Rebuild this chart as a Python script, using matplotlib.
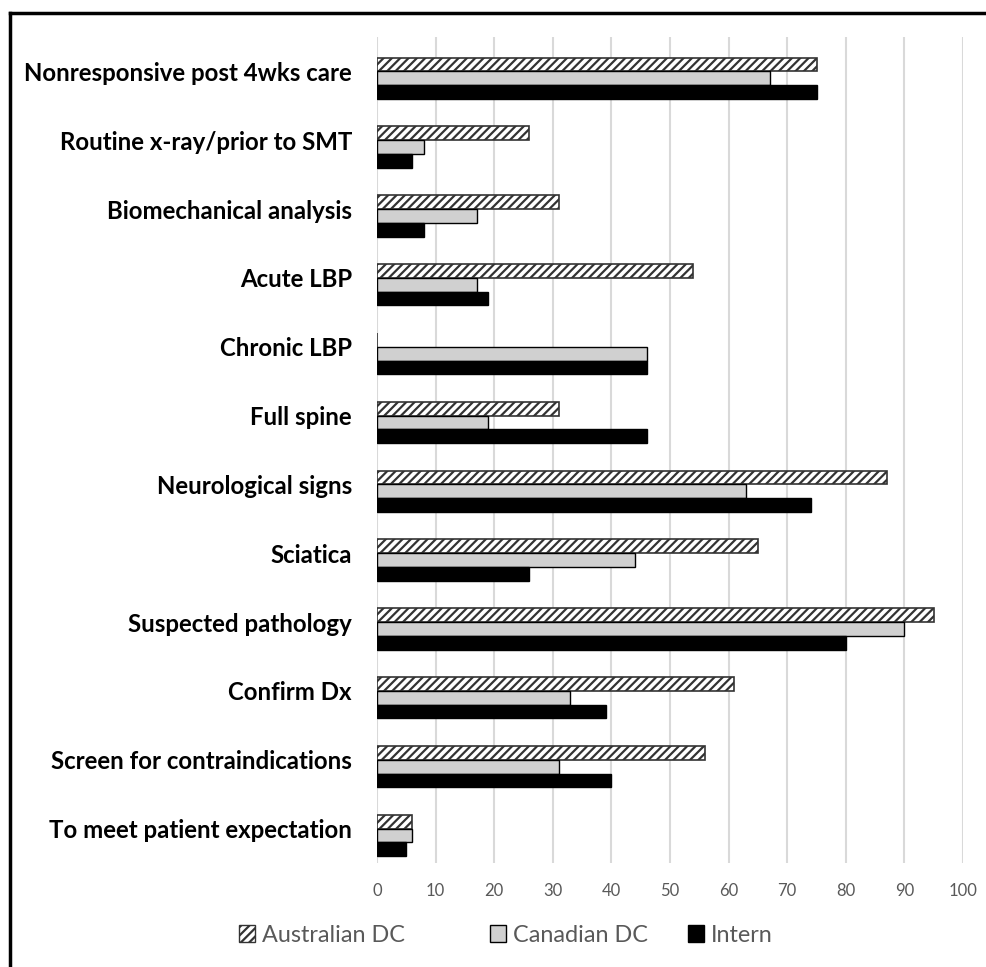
import matplotlib
matplotlib.use("Agg")
import matplotlib.pyplot as plt
from matplotlib.lines import Line2D
from matplotlib.patches import Patch
import numpy as np

plt.rcParams['font.family'] = ['Lato', 'DejaVu Sans']
plt.rcParams['hatch.linewidth'] = 1.6

# Datos (porcentajes)
categorias = ['Nonresponsive post 4wks care', 'Routine x-ray/prior to SMT',
              'Biomechanical analysis', 'Acute LBP', 'Chronic LBP', 'Full spine',
              'Neurological signs', 'Sciatica', 'Suspected pathology',
              'Confirm Dx', 'Screen for contraindications',
              'To meet patient expectation']
australian = [75, 26, 31, 54, 0, 31, 87, 65, 95, 61, 56, 6]
canadian = [67, 8, 17, 17, 46, 19, 63, 44, 90, 33, 31, 6]
intern = [75, 6, 8, 19, 46, 46, 74, 26, 80, 39, 40, 5]
series = ['Australian DC', 'Canadian DC', 'Intern']
ticks_x = [0, 10, 20, 30, 40, 50, 60, 70, 80, 90, 100]

fig = plt.figure(figsize=(9.87, 9.67), dpi=100)
ax = fig.add_axes([377 / 987, 104 / 967, 586 / 987, 826 / 967])

y = np.arange(len(categorias))
h = 0.2
ax.barh(y - 0.1, australian, height=h, facecolor='white', edgecolor='#333333',
        hatch='////', linewidth=1.2, zorder=3)
ax.barh(y + 0.1, canadian, height=h, facecolor='#d0d0d0', edgecolor='black',
        linewidth=1.0, zorder=3)
ax.barh(y + 0.3, intern, height=h, facecolor='black', edgecolor='black',
        linewidth=1.0, zorder=3)

ax.set_xlim(0, 100)
ax.set_ylim(len(categorias) - 0.5, -0.5)
ax.set_xticks(ticks_x)
ax.set_yticks(y)
ax.set_yticklabels(categorias, fontsize=17.3, fontweight='bold', color='black')
ax.tick_params(axis='y', length=0, pad=18)
ax.tick_params(axis='x', length=0, pad=14.5, labelsize=12, labelcolor='#595959')
ax.grid(axis='x', color='#d9d9d9', linewidth=1.5, zorder=0)
for s in ax.spines.values():
    s.set_visible(False)

# Leyenda: una entrada por serie, en las posiciones del original
handles = [Patch(facecolor='white', edgecolor='#333333', hatch='////', label=series[0]),
           Patch(facecolor='#d0d0d0', edgecolor='black', label=series[1]),
           Patch(facecolor='black', edgecolor='black', label=series[2])]
for hnd, xpos in zip(handles, [239, 490, 688]):
    leg = fig.legend(handles=[hnd], loc='center left',
                     bbox_to_anchor=(xpos / 987, 1 - 935 / 967),
                     frameon=False, fontsize=16.8, handlelength=0.7, handleheight=0.7,
                     handletextpad=0.3, borderpad=0, borderaxespad=0)
    for t in leg.get_texts():
        t.set_color('#595959')

# Marco exterior (solo arriba e izquierda visibles)
fig.add_artist(Line2D([10 / 987, 10 / 987], [0, 1 - 13 / 967], transform=fig.transFigure,
                      color='black', linewidth=2.5))
fig.add_artist(Line2D([10 / 987, 1], [1 - 13 / 967, 1 - 13 / 967], transform=fig.transFigure,
                      color='black', linewidth=2.5))

fig.savefig('out.png', dpi=100)
